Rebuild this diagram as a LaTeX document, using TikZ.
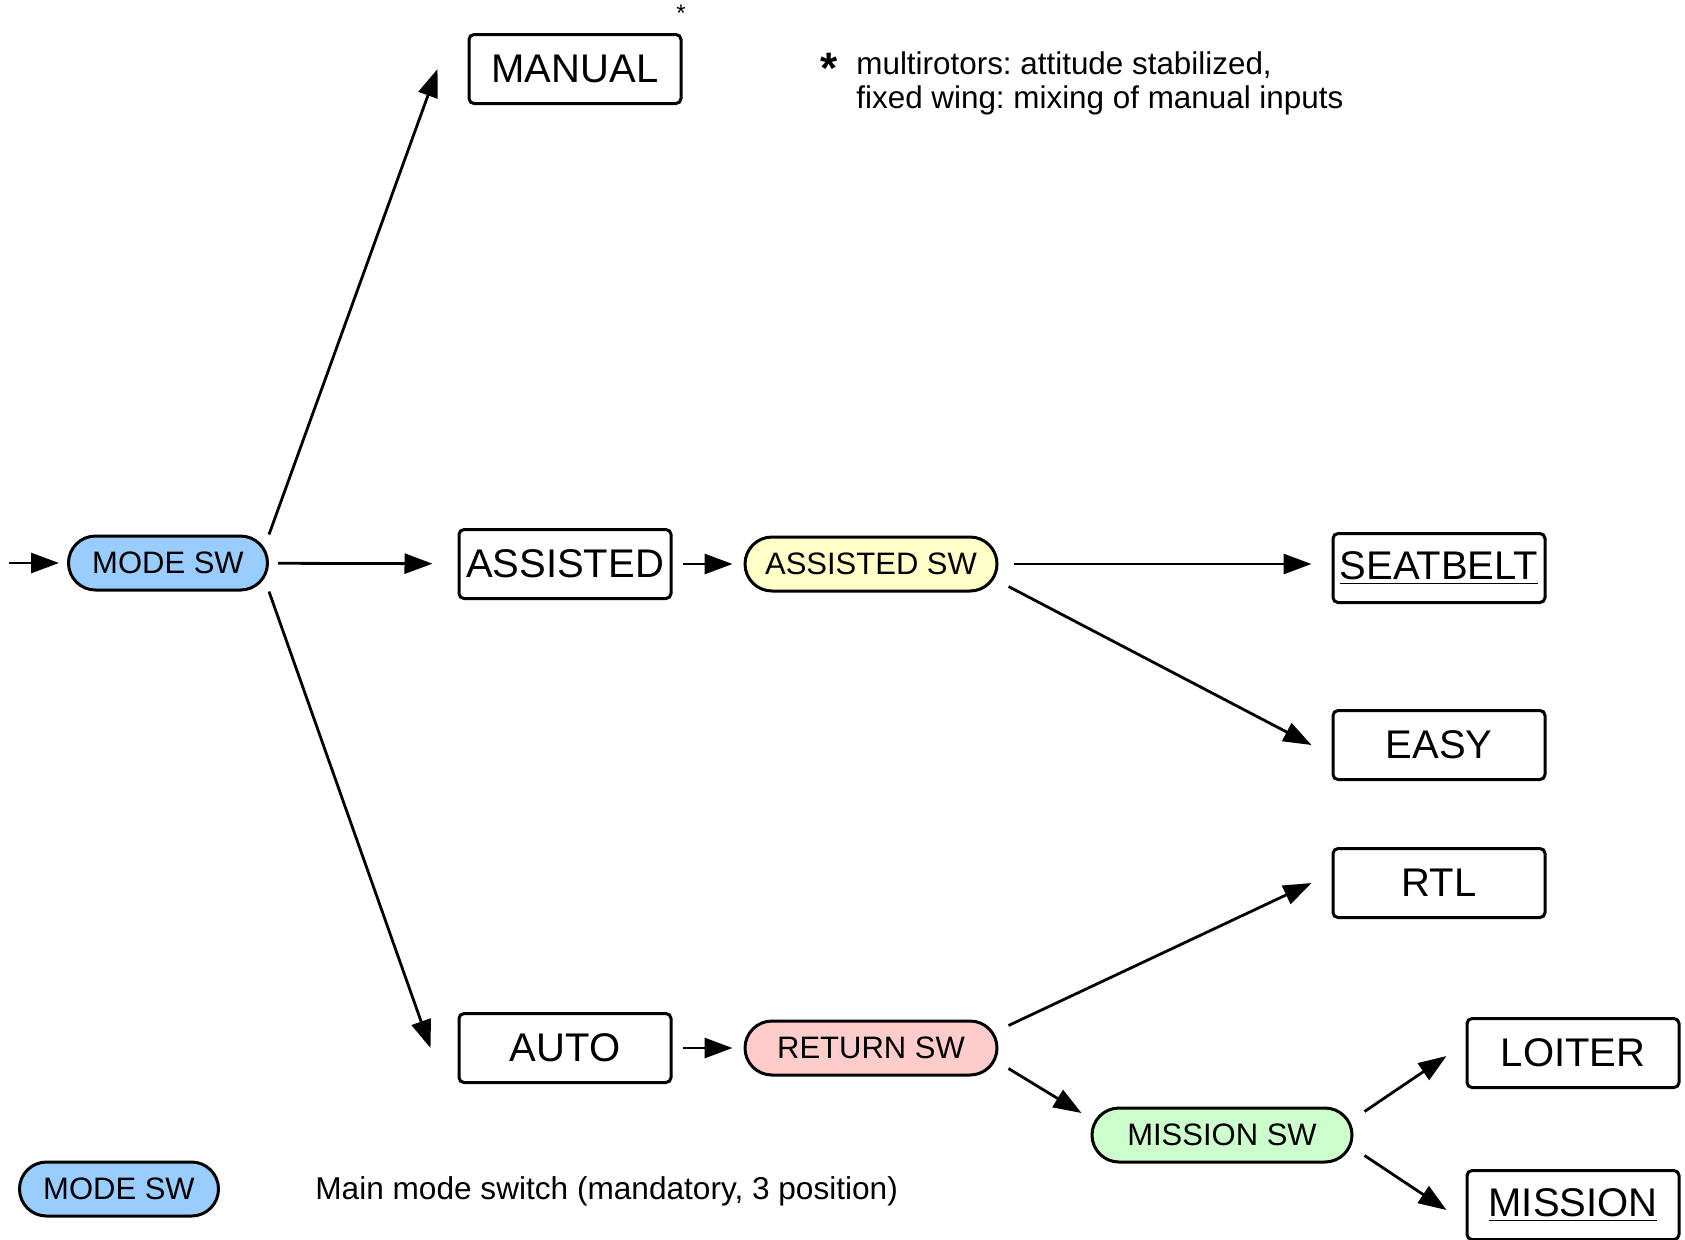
\documentclass[tikz,border=0pt]{standalone}
\usepackage{fontspec}
\setmainfont{Liberation Sans}
\usetikzlibrary{arrows.meta}

\definecolor{modeblue}{HTML}{99CCFF}
\definecolor{assistyellow}{HTML}{FFFFC8}
\definecolor{returnpink}{HTML}{FFCCCC}
\definecolor{missiongreen}{HTML}{CCFFCC}

\begin{document}
\frenchspacing
\begin{tikzpicture}[x=0.5pt, y=-0.5pt,
  modebox/.style={shape=rectangle, rounded corners=2.5pt, minimum width=106pt, minimum height=34.5pt, inner sep=0pt, draw=black, line width=1.5pt, fill=white, font=\fontsize{20}{24}\selectfont},
  switchbox/.style={shape=rectangle, rounded corners=13.5pt, minimum height=27pt, inner sep=0pt, draw=black, line width=1.5pt, font=\fontsize{15.5}{18}\selectfont},
  arr/.style={-{Triangle[length=14pt,width=10pt]}, line width=1.4pt}]
\useasboundingbox (0,0) rectangle (1685,1239);
%main switch
\node[switchbox, fill=modeblue, minimum width=99.5pt] (modesw) at (168,563) {MODE SW};
\coordinate (in) at (9,563);
\node[modebox] (manual) at (575,69) {MANUAL};
\node[modebox] (assisted) at (565,564) {ASSISTED};
\node[modebox] (auto) at (565,1048) {AUTO};
%assisted branch
\node[switchbox, fill=assistyellow, minimum width=126pt] (assistsw) at (871,564) {ASSISTED SW};
\node[modebox] (seatbelt) at (1439,568) {\underline{SEATBELT}};
\node[modebox] (easy) at (1439,745) {EASY};
%auto branch
\node[switchbox, fill=returnpink, minimum width=126pt] (returnsw) at (871,1048) {RETURN SW};
\node[modebox] (rtl) at (1439,883) {RTL};
\node[switchbox, fill=missiongreen, minimum width=130pt] (missionsw) at (1222,1135) {MISSION SW};
\node[modebox] (loiter) at (1573,1053) {LOITER};
\node[modebox] (mission) at (1573,1205) {\underline{MISSION}};
%note
\node[inner sep=0pt, font=\fontsize{12}{12}\selectfont] (star) at (681,13) {*};
\node[inner sep=0pt, font=\fontsize{22}{22}\selectfont\bfseries] (notestar) at (829,68) {*};
\node[inner sep=0pt, anchor=north west, align=left, font=\fontsize{15.7}{17}\selectfont] (note) at (856,51) {multirotors: attitude stabilized,\\fixed wing: mixing of manual inputs};
%legend
\node[switchbox, fill=modeblue, minimum width=99.5pt] (legendsw) at (119,1189) {MODE SW};
\node[inner sep=0pt, anchor=west, font=\fontsize{15.8}{18}\selectfont] (legendtext) at (315,1191) {Main mode switch (mandatory, 3 position)};
%arrows
\draw[arr, shorten >=4pt] (in) -- (modesw);
\draw[arr] (modesw.north east) -- ([xshift=-15pt]manual.west);
\draw[arr, shorten <=4.5pt, shorten >=12.5pt] (modesw) -- (assisted);
\draw[arr] (modesw.south east) -- ([xshift=-13.5pt]auto.west);
\draw[arr, shorten <=5pt, shorten >=5.5pt] (assisted) -- (assistsw);
\draw[arr, shorten <=7.5pt, shorten >=10pt] (assistsw.east) -- (assistsw.east -| seatbelt.west);
\draw[arr] ([xshift=5pt,yshift=3pt]assistsw.south east) -- ([xshift=-10pt]easy.west);
\draw[arr, shorten <=5pt, shorten >=5.5pt] (auto) -- (returnsw);
\draw[arr] ([xshift=5pt,yshift=-3pt]returnsw.north east) -- ([xshift=-10pt]rtl.west);
\draw[arr] ([xshift=5pt,yshift=4pt]returnsw.south east) -- ([xshift=-4.5pt,yshift=11pt]missionsw.west);
\draw[arr] ([xshift=5.5pt,yshift=-2.5pt]missionsw.north east) -- ([xshift=-9.5pt,yshift=-1.5pt]loiter.west);
\draw[arr] ([xshift=5.5pt,yshift=4pt]missionsw.south east) -- ([xshift=-9.5pt,yshift=-2.5pt]mission.west);
\end{tikzpicture}
\end{document}
